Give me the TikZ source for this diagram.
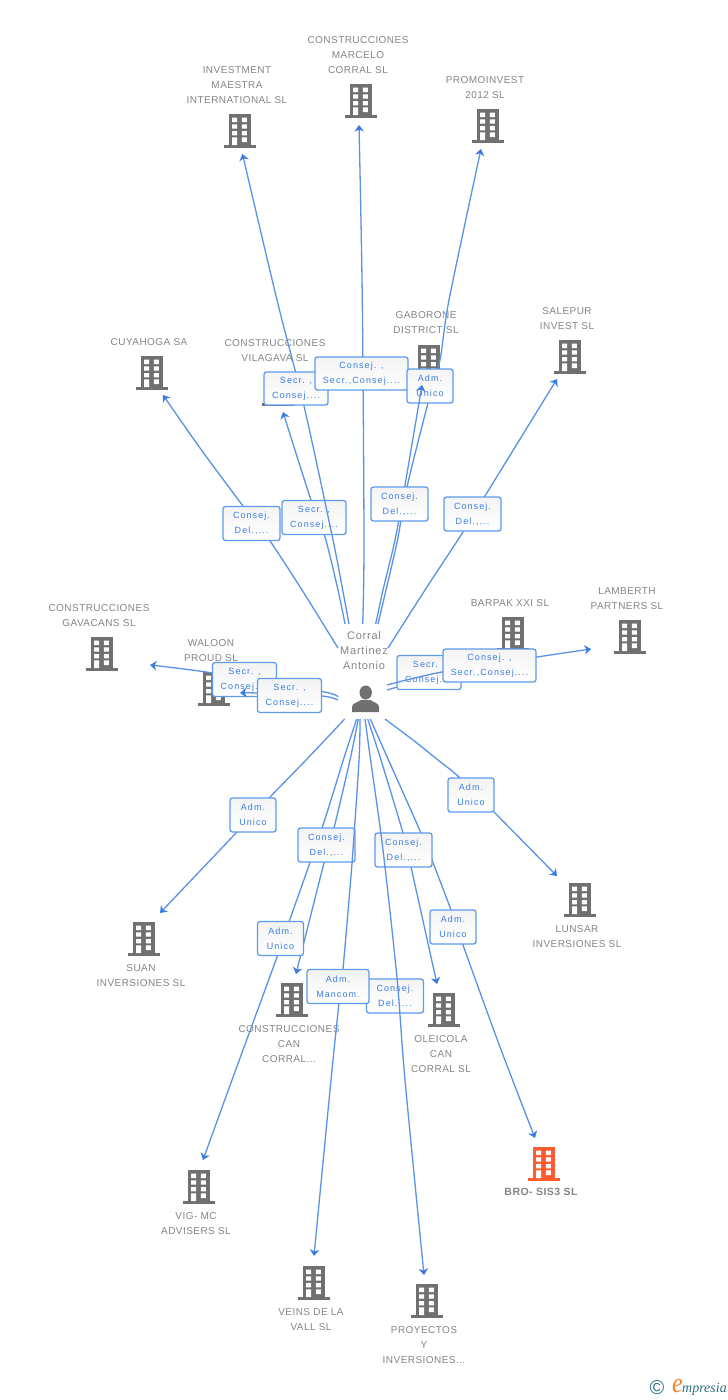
\documentclass[tikz,border=0pt]{standalone}
\usepackage{fontspec}
\setmainfont{Liberation Sans}
\newfontfamily\namefont[LetterSpace=4.5]{Liberation Sans}
\newfontfamily\egofont[LetterSpace=7]{Liberation Sans}
\newfontfamily\boxfont[LetterSpace=12]{Liberation Sans}
\newfontfamily\logofont{Liberation Serif}
\usetikzlibrary{arrows.meta}
\definecolor{bgrey}{HTML}{707070}
\definecolor{tgrey}{HTML}{858585}
\definecolor{orng}{HTML}{FF5B2E}
\definecolor{eline}{HTML}{5A92E6}
\definecolor{etip}{HTML}{3A7DE0}
\definecolor{btext}{HTML}{3A7DE0}
\definecolor{bedge}{HTML}{5F9BEC}
\definecolor{teal}{HTML}{2F6F86}
\definecolor{logoorange}{HTML}{F58220}
\tikzset{
  elabel/.style={inner sep=0pt,align=center,text=tgrey,font=\namefont\fontsize{10}{15}\selectfont},
  conn/.style={draw=eline,line width=1.3pt,line join=round,-{Stealth[length=6.5pt,width=9.5pt,inset=2pt,color=etip]}},
  linkbox/.style={draw=bedge,line width=1.3pt,rounded corners=2.5pt,top color=gray!9,bottom color=white,
    inner sep=0pt,align=center,text=btext,font=\boxfont\fontsize{9}{15}\selectfont}
}
\newcommand{\bldg}[4]{% name, cx, top, colour
  \node[inner sep=0pt,minimum width=32pt,minimum height=34pt] (#1) at (#2,#3+17) {};
  \begin{scope}[shift={(#2,#3)}]
    \fill[#4] (-11,0) rectangle (11,31.5);
    \fill[#4] (-16,31) rectangle (16,33.8);
    \fill[white] (-7.8,3.7) rectangle (-2.8,8.2) (1.8,3.7) rectangle (6.8,8.2)
      (-7.8,10.3) rectangle (-2.8,14.7) (1.8,10.3) rectangle (6.8,14.7)
      (-7.8,17) rectangle (-2.8,21.3) (1.8,17) rectangle (6.8,21.3)
      (-7.8,23.4) rectangle (-2.8,31) (1.8,23.4) rectangle (6.8,28);
  \end{scope}}
\newcommand{\lnk}[6]{% name, cx, cy, w, h, text
  \node[linkbox,minimum width=#4pt,minimum height=#5pt] (#1) at (#2,#3) {#6};}
\begin{document}
\begin{tikzpicture}[x=1pt,y=-1pt]
\useasboundingbox (0,0) rectangle (728,1400);
\fill[white] (0,0) rectangle (728,1400);
% buildings
\bldg{investment}{240}{114}{bgrey}
\bldg{marcelo}{361}{84}{bgrey}
\bldg{promo}{488}{109}{bgrey}
\bldg{cuyahoga}{152}{356}{bgrey}
\bldg{vilagava}{278}{372}{bgrey}
\bldg{gaborone}{429}{345}{bgrey}
\bldg{salepur}{570}{340}{bgrey}
\bldg{gavacans}{102}{637}{bgrey}
\bldg{waloon}{214}{672}{bgrey}
\bldg{barpak}{513}{617}{bgrey}
\bldg{lamberth}{630}{620}{bgrey}
\bldg{suan}{144}{922}{bgrey}
\bldg{lunsar}{580}{883}{bgrey}
\bldg{cancorral}{292}{983}{bgrey}
\bldg{oleicola}{444}{993}{bgrey}
\bldg{vig}{199}{1170}{bgrey}
\bldg{veins}{314}{1266}{bgrey}
\bldg{proyectos}{427}{1284}{bgrey}
\bldg{bro}{544}{1147}{orng}
% names
\node[elabel] (ninvestment) at (237,85) {INVESTMENT\\MAESTRA\\INTERNATIONAL SL};
\node[elabel] (nmarcelo) at (358,55) {CONSTRUCCIONES\\MARCELO\\CORRAL SL};
\node[elabel] (npromo) at (485,87.5) {PROMOINVEST\\2012 SL};
\node[elabel] (ncuyahoga) at (149,342) {CUYAHOGA SA};
\node[elabel] (nvilagava) at (275,350.5) {CONSTRUCCIONES\\VILAGAVA SL};
\node[elabel] (ngaborone) at (426,322.5) {GABORONE\\DISTRICT SL};
\node[elabel] (nsalepur) at (567,318.5) {SALEPUR\\INVEST SL};
\node[elabel] (ngavacans) at (99,615.5) {CONSTRUCCIONES\\GAVACANS SL};
\node[elabel] (nwaloon) at (211,650.5) {WALOON\\PROUD SL};
\node[elabel] (nbarpak) at (510,603) {BARPAK XXI SL};
\node[elabel] (nlamberth) at (627,598.5) {LAMBERTH\\PARTNERS SL};
\node[elabel] (nsuan) at (141,975.5) {SUAN\\INVERSIONES SL};
\node[elabel] (nlunsar) at (577,936.5) {LUNSAR\\INVERSIONES SL};
\node[elabel] (ncancorral) at (289,1044) {CONSTRUCCIONES\\CAN\\CORRAL...};
\node[elabel] (noleicola) at (441,1054) {OLEICOLA\\CAN\\CORRAL SL};
\node[elabel] (nvig) at (196,1223.5) {VIG- MC\\ADVISERS SL};
\node[elabel] (nveins) at (311,1319.5) {VEINS DE LA\\VALL SL};
\node[elabel] (nproyectos) at (424,1345) {PROYECTOS\\Y\\INVERSIONES...};
\node[inner sep=0pt,text=tgrey,font=\namefont\bfseries\fontsize{10.5}{15}\selectfont] (nbro) at (541,1192) {BRO- SIS3 SL};
% person
\node[inner sep=0pt,align=center,text=tgrey,font=\egofont\fontsize{11}{15}\selectfont] (ego) at (364,650.5) {Corral\\Martinez\\Antonio};
\fill[bgrey] (365.7,692.5) circle[x radius=6.2,y radius=7];
\fill[bgrey] (352,712) -- (352,707) .. controls (352,703) and (358,702.5) .. (361,700) -- (370.5,700) .. controls (373.5,702.5) and (379,703) .. (379,707) -- (379,712) -- cycle;
% edge ends
\coordinate (sB) at (345,624); \coordinate (tB) at (283,412);
\coordinate (sA) at (349,624); \coordinate (tA) at (242.5,154);
\coordinate (sC) at (362.7,624); \coordinate (tC) at (359,125);
\coordinate (sD) at (378,624); \coordinate (tD) at (481,149);
\coordinate (sE) at (375.7,624); \coordinate (tE) at (422,385);
\coordinate (sF) at (338,648); \coordinate (tF) at (163,395);
\coordinate (sG) at (388,648); \coordinate (tG) at (557,379);
\coordinate (sH) at (338,697); \coordinate (tH) at (150,665);
\coordinate (sI) at (338,700); \coordinate (tI) at (240,693);
\coordinate (sJ) at (387,690); \coordinate (tJ) at (510,656);
\coordinate (sL) at (387,685); \coordinate (tL) at (591,649);
\coordinate (sK) at (344.7,719); \coordinate (tK) at (160,913);
\coordinate (sU) at (385,719); \coordinate (tU) at (557,876);
\coordinate (sM) at (356.7,719); \coordinate (tM) at (203,1160);
\coordinate (sN) at (358.3,719); \coordinate (tN) at (296,974);
\coordinate (sO) at (360,719); \coordinate (tO) at (314,1256);
\coordinate (sP) at (365,719); \coordinate (tP) at (424,1275);
\coordinate (sQ) at (367.7,719); \coordinate (tQ) at (437,984);
\coordinate (sR) at (370.3,719); \coordinate (tR) at (535,1138);
% top
\draw[conn] plot[smooth,tension=.5] coordinates {(sF)(302,590)(270,541)(243,506)(200,448)(tF)};
\lnk{lF}{251.5}{523.5}{57}{34}{Consej.\\Del.,...}
\draw[conn] plot[smooth,tension=.5] coordinates {(sB)(338,590)(325,537)(311,500)(tB)};
\lnk{lB}{314}{517.5}{64}{34}{Secr. ,\\Consej....}
\draw[conn] plot[smooth,tension=.5] coordinates {(sA)(342.7,590)(333,540)(304,406)(277,300)(tA)};
\lnk{lA}{296}{388.5}{64}{33}{Secr. ,\\Consej....}
\draw[conn] plot[smooth,tension=.5] coordinates {(sC)(364,540)(362.3,300)(tC)};
\lnk{lC}{361.5}{373.5}{93}{33}{Consej. ,\\Secr.,Consej....}
\draw[conn] plot[smooth,tension=.5] coordinates {(sD)(386,590)(397.5,540)(407,487)(428,403)(440,360)(449,300)(tD)};
\lnk{lD}{430}{386}{46}{34}{Adm.\\Unico}
\draw[conn] plot[smooth,tension=.5] coordinates {(sE)(383,590)(395,540)(405,485)(tE)};
\lnk{lE}{399.5}{504}{57}{34}{Consej.\\Del.,...}
\draw[conn] plot[smooth,tension=.5] coordinates {(sG)(425,590)(463,532)(485,496)(tG)};
\lnk{lG}{472.5}{514}{57}{34}{Consej.\\Del.,...}
% sides
\draw[conn] plot[smooth,tension=.5] coordinates {(sH)(322,691.5)(213,673)(tH)};
\lnk{lH}{244.5}{679.5}{64}{34}{Secr. ,\\Consej....}
\draw[conn] plot[smooth,tension=.5] coordinates {(sI)(322,696)(258,693)(tI)};
\lnk{lI}{289.5}{695.5}{64}{34}{Secr. ,\\Consej....}
\draw[conn] plot[smooth,tension=.5] coordinates {(sJ)(450,672)(tJ)};
\lnk{lJ}{429}{672.5}{64}{34}{Secr. ,\\Consej....}
\draw[conn] plot[smooth,tension=.5] coordinates {(sL)(442,672)(537,657)(tL)};
\lnk{lL}{489.5}{665.5}{93}{33}{Consej. ,\\Secr.,Consej....}
% bottom
\draw[conn] plot[smooth,tension=.5] coordinates {(sK)(306,760)(270,797)(237,832)(tK)};
\lnk{lK}{253}{815}{46}{34}{Adm.\\Unico}
\draw[conn] plot[smooth,tension=.5] coordinates {(sU)(413,740)(438,760)(459,777)(494,812)(tU)};
\lnk{lU}{471}{795}{46}{34}{Adm.\\Unico}
\draw[conn] plot[smooth,tension=.5] coordinates {(sM)(343.3,760)(322,828)(289,922)(277,957)(232,1080)(tM)};
\draw[conn] plot[smooth,tension=.5] coordinates {(sN)(350,760)(334,828)(324,863)(tN)};
\lnk{lN}{326.5}{845}{57}{34}{Consej.\\Del.,...}
\lnk{lM}{280.5}{938.5}{46}{34}{Adm.\\Unico}
\draw[conn] plot[smooth,tension=.5] coordinates {(sR)(388.5,760)(421,833)(432,860)(451,910)(463,945)(500,1047)(tR)};
\lnk{lR}{453}{927}{46}{34}{Adm.\\Unico}
\draw[conn] plot[smooth,tension=.5] coordinates {(sQ)(381,760)(403,833)(411,867)(tQ)};
\lnk{lQ}{403.5}{850}{57}{34}{Consej.\\Del.,...}
\lnk{lP}{395}{996}{57}{34}{Consej.\\Del.,...}
\draw[conn] plot[smooth,tension=.5] coordinates {(sP)(370.6,760)(383,850)(397,978)(405,1080)(tP)};
\draw[conn] plot[smooth,tension=.5] coordinates {(sO)(359,760)(352,863)(343,969)(339,1003)(331,1080)(tO)};
\lnk{lO}{338}{986.5}{62}{34}{Adm.\\Mancom.}
% logo
\node[inner sep=0pt,text=teal,font=\fontsize{20}{20}\selectfont] (copy) at (657,1388) {©};
\node[inner sep=0pt,text=logoorange,xscale=.85,font=\logofont\itshape\fontsize{28}{28}\selectfont] (loge) at (677.5,1386) {e};
\node[inner sep=0pt,text=teal,font=\logofont\itshape\fontsize{14}{14}\selectfont,anchor=west] (logt) at (682,1389) {mpresia};
\end{tikzpicture}
\end{document}
